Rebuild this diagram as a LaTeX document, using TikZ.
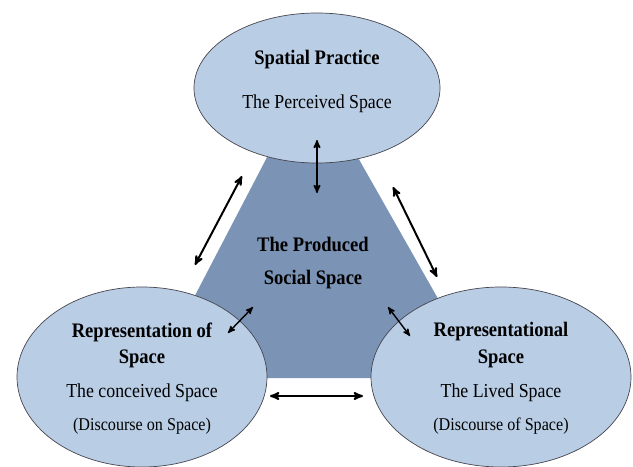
\documentclass[tikz,border=0pt]{standalone}
\usepackage{fontspec}
\setmainfont{Liberation Serif}[FakeStretch=0.9]
\usetikzlibrary{arrows}
\usetikzlibrary{shapes.geometric}

\definecolor{ovalblue}{RGB}{185,205,229}
\definecolor{coreblue}{RGB}{123,147,181}
\definecolor{rimgray}{RGB}{70,70,80}

\tikzset{
 oval/.style={ellipse, draw=rimgray, line width=.6pt, fill=ovalblue, inner sep=0},
 head/.style={font=\fontsize{17.6}{20}\selectfont\bfseries, inner sep=1},
 sub/.style={font=\fontsize{16.9}{20}\selectfont, inner sep=1},
 paren/.style={font=\fontsize{15.3}{18}\selectfont, inner sep=1},
 link/.style={black, line width=1.7pt, <->, >=stealth'}
}

\begin{document}
\begin{tikzpicture} [x=0.03cm, y=-0.03cm]
\useasboundingbox (0,0) rectangle (633,466);
% produced space
\fill[coreblue] (276,140)--(348,140)--(483,378)--(152,378)--cycle;
\node[head] (prod) at (313,244) {The Produced};
\node[head] (soc) at (313,280) {Social Space};
% the three ovals
\node[oval, minimum width=7.38cm, minimum height=4.5cm] (sp) at (317,88) {};
\node[oval, minimum width=7.5cm, minimum height=5.4cm] (rs) at (142,377) {};
\node[oval, minimum width=7.8cm, minimum height=5.4cm] (rl) at (501,377) {};
\node[head] (spt) at (317,60) {Spatial Practice};
\node[sub] (sps) at (317,104) {The Perceived Space};
\node[head] (rst) at (142,332) {Representation of};
\node[head] (rsu) at (142,359) {Space};
\node[sub] (rss) at (142,393) {The conceived Space};
\node[paren] (rsp) at (142,426) {(Discourse on Space)};
\node[head] (rlt) at (501,332) {Representational};
\node[head] (rlu) at (501,359) {Space};
\node[sub] (rls) at (501,393) {The Lived Space};
\node[paren] (rlp) at (501,426) {(Discourse of Space)};
% arrow ends
\coordinate (a1) at (317,140); \coordinate (b1) at (317,193);
\coordinate (a2) at (195,265); \coordinate (b2) at (242,176);
\coordinate (a3) at (393,187); \coordinate (b3) at (437,277);
\coordinate (a4) at (228,333); \coordinate (b4) at (253,307);
\coordinate (a5) at (388,307); \coordinate (b5) at (410,336);
\coordinate (a6) at (270,396); \coordinate (b6) at (363,396);
\draw[link, line width=1.4pt] (a1)--(b1);
\draw[link] (a2)--(b2);
\draw[link] (a3)--(b3);
\draw[link, line width=1.2pt] (a4)--(b4);
\draw[link, line width=1.2pt] (a5)--(b5);
\draw[link] (a6)--(b6);
\end{tikzpicture}
\end{document}
